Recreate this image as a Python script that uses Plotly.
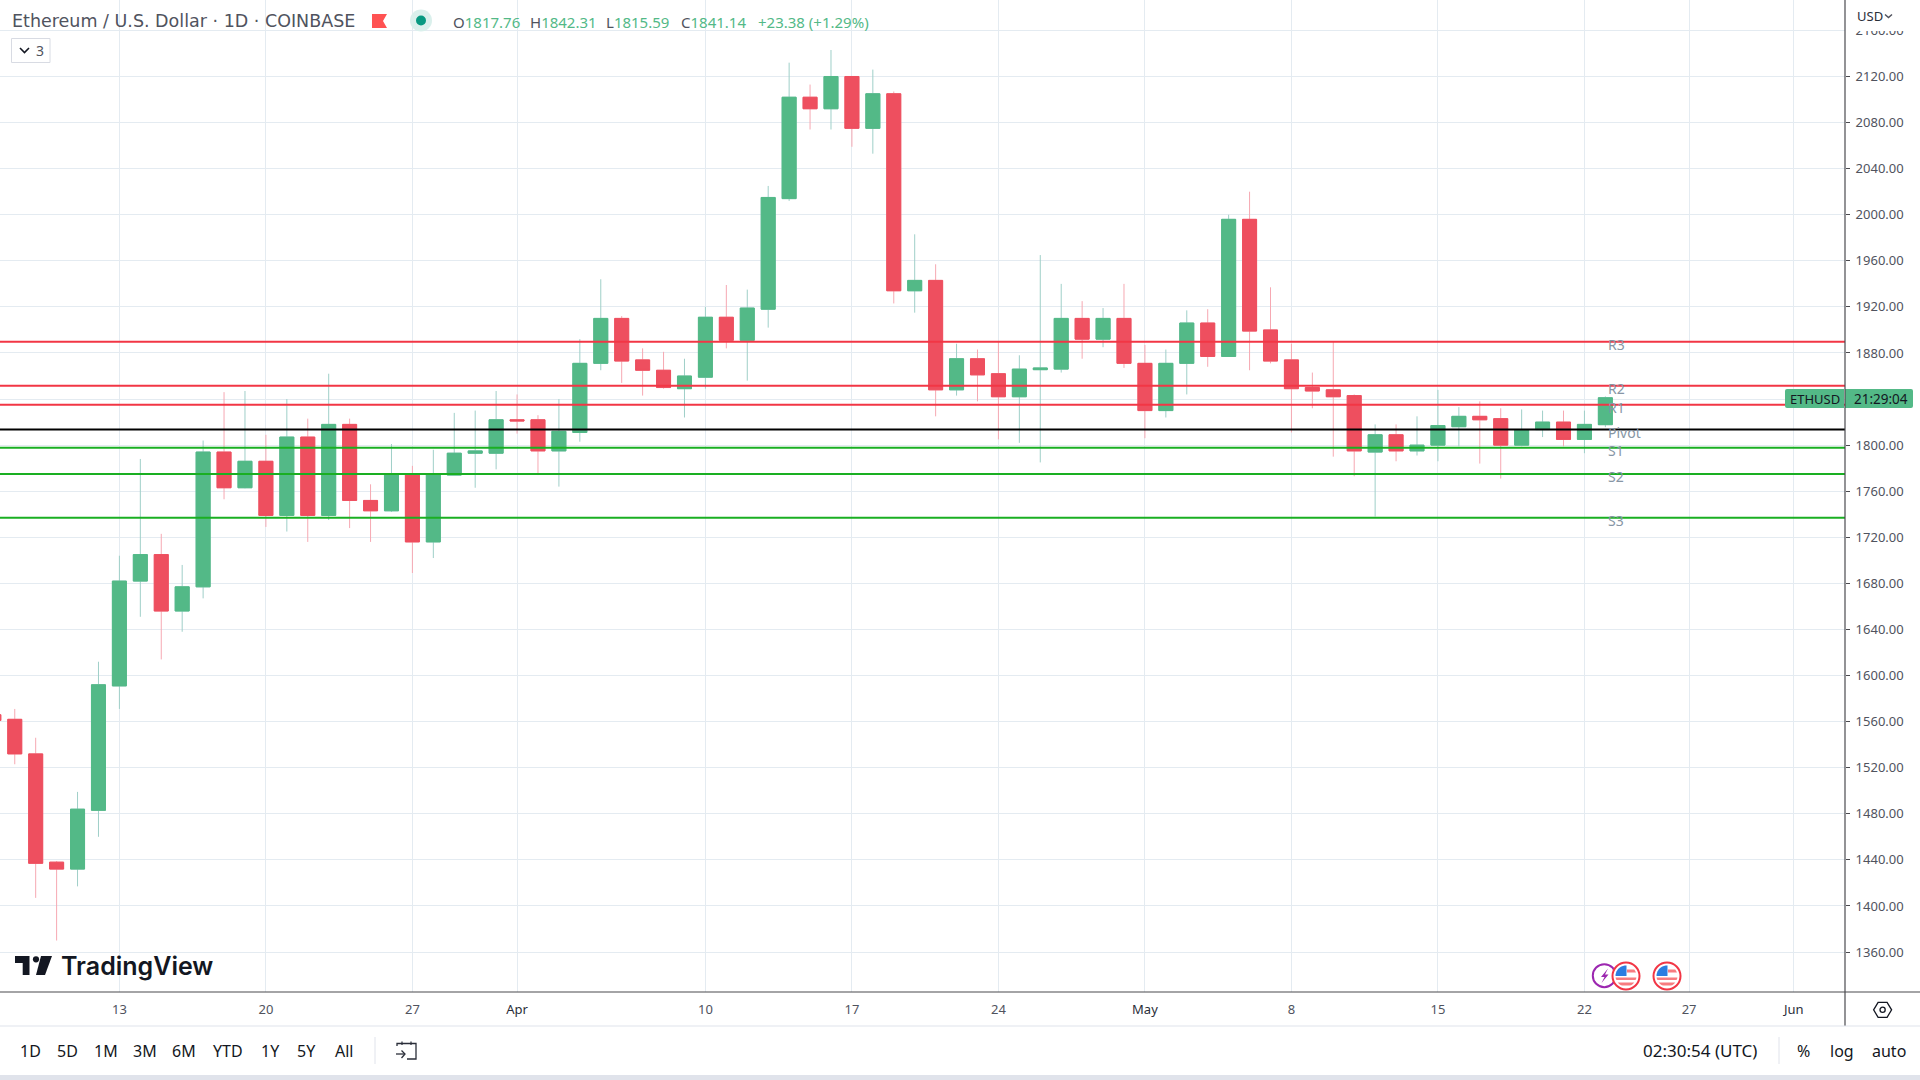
import math
import pandas as pd
import plotly.graph_objects as go

# ---------- data ----------
dates = pd.date_range("2023-03-07", "2023-05-23", freq="D")
opens = [1566,1562,1532,1438,1432,1483,1591,1682,1705,1656,1677,1794,1763,1786,1739,1807,1739,1818,1752,1743,1775,1716,1774,1793,1793,
         1822,1822,1795,1811,1871,1910,1874,1865,1849,1859,1911,1891,1918,2014,2102,2092,2120,2075,2105,1934,1943,1848,1875,1862,1842,1865.5,1866,1910,1892,1910,
         1871,1830,1871,1906,1877,1996,1900,1874,1850,1848,1843,1794,1809,1795,1800,1816,1825,1823,1800,1813.5,1820,1805,1817.76]
highs = [1568,1571,1546,1439,1499,1612,1704,1788,1723,1696,1804,1846,1847,1809,1840,1823,1862,1823,1766,1801,1782,1796,1828,1830,1847,
         1844,1826,1840,1892,1944,1912,1884,1881,1875,1920,1939,1935,2025,2132,2113,2143,2120,2126,2107,1983,1957,1888,1883,1890,1878,1965,1940,1925,1919,1940,
         1887,1883,1917,1918,2000,2020,1937,1888,1863,1890,1844,1818,1818,1825,1848,1833,1838,1832,1831,1830,1830,1830,1842.31]
lows = [1555,1523,1407,1370,1417,1460,1571,1651,1614,1638,1667,1753,1762.5,1729,1725,1716,1735,1728,1716,1742,1689,1702,1774,1763,1779,
        1810,1774,1764,1803,1865,1854,1843,1849,1824,1849,1884,1856,1902,2012,2074,2074,2059,2053,1923,1915,1825,1843,1838,1805,1802,1785,1863,1875,1885,1867,
        1806,1824,1844,1868,1877,1865,1871,1811,1832,1790,1773,1738,1786,1791,1786,1799,1784,1771,1799,1807,1799,1793,1815.59]
closes = [1561,1532,1437,1432,1484,1592,1682,1705,1656,1677,1794,1763,1786,1739,1807,1739,1818,1752,1743,1775,1716,1775,1793,1795,1822,
          1821,1795,1812,1871,1910,1873,1865,1850,1860,1911,1891,1919,2015,2102,2092,2120,2075,2105,1934,1943,1848,1875,1861,1842,1866,1867,1910,1892,1910,1871,
          1830,1871,1906,1877,1996,1899,1873,1849,1847,1842,1795,1809,1795,1800,1817,1825,1822,1800,1813.5,1820,1805,1818,1841.14]
level_names = ["R3", "R2", "R1", "Pivot", "S1", "S2", "S3"]
level_values = [1889.7, 1851.5, 1835, 1813.5, 1797.7, 1775, 1737]
level_colors = ["#f23645", "#f23645", "#f23645", "#000000", "#1aaf22", "#1aaf22", "#1aaf22"]
xtick_dates = ["2023-03-13","2023-03-20","2023-03-27","2023-04-01","2023-04-10","2023-04-17","2023-04-24",
               "2023-05-01","2023-05-08","2023-05-15","2023-05-22","2023-05-27","2023-06-01"]
xtick_text = ["13","20","27","Apr","10","17","24","May","8","15","22","27","Jun"]
ytick_vals = list(range(1360, 2200, 40))
range_buttons = ["1D","5D","1M","3M","6M","YTD","1Y","5Y","All"]

# ---------- page geometry ----------
W, H = 1920, 1080
PL_W, PL_H = 1845, 992
X = lambda p: p / PL_W
Y = lambda p: 1 - p / PL_H
TEXT = "#131722"
FONT = "Noto Sans"
GREEN, RED = "#53b987", "#ee4f5f"
GRID = "#e4ebf1"

fig = go.Figure()

# wicks (lighter) drawn with the candle, then solid bodies on top
fig.add_trace(go.Candlestick(
    x=dates, open=opens, high=highs, low=lows, close=closes, showlegend=False,
    increasing=dict(line=dict(color="#9fcfc8", width=1), fillcolor=GREEN),
    decreasing=dict(line=dict(color="#f6a8b2", width=1), fillcolor=RED)))
fig.add_trace(go.Candlestick(
    x=dates, open=opens, close=closes, showlegend=False,
    high=[max(a, b) for a, b in zip(opens, closes)],
    low=[min(a, b) for a, b in zip(opens, closes)],
    increasing=dict(line=dict(color=GREEN, width=1), fillcolor=GREEN),
    decreasing=dict(line=dict(color=RED, width=1), fillcolor=RED)))

XMIN, XMAX = "2023-03-07 07:05", "2023-06-03 10:48"
for name, val, col in zip(level_names, level_values, level_colors):
    fig.add_trace(go.Scatter(x=[XMIN, XMAX], y=[val, val], mode="lines", name=name,
                             showlegend=False, line=dict(color=col, width=2)))

shapes, notes = [], []

def note(text, px, py, size=14, color=TEXT, anchor="center", **kw):
    notes.append(dict(text=text, x=X(px), y=Y(py), xref="paper", yref="paper", showarrow=False,
                      xanchor=anchor, yanchor="middle", borderpad=0,
                      font=dict(family=kw.pop("family", FONT), size=size, color=color, **kw)))

def rect(x0, y0, x1, y1, fill, line=None, lw=1):
    shapes.append(dict(type="rect", xref="paper", yref="paper", layer="above",
                       x0=X(x0), x1=X(x1), y0=Y(y0), y1=Y(y1), fillcolor=fill,
                       line=dict(color=line or "rgba(0,0,0,0)", width=lw if line else 0)))

def seg(x0, y0, x1, y1, color, lw=1):
    shapes.append(dict(type="line", xref="paper", yref="paper", layer="above",
                       x0=X(x0), x1=X(x1), y0=Y(y0), y1=Y(y1), line=dict(color=color, width=lw)))

def poly(points, fill=None, line=None, lw=1, close=True):
    d = "M " + " L ".join(f"{X(a):.6f},{Y(b):.6f}" for a, b in points) + (" Z" if close else "")
    shapes.append(dict(type="path", xref="paper", yref="paper", layer="above", path=d,
                       fillcolor=fill or "rgba(0,0,0,0)",
                       line=dict(color=line or "rgba(0,0,0,0)", width=lw if line else 0)))

def circle(cx, cy, r, fill=None, line=None, lw=1):
    shapes.append(dict(type="circle", xref="paper", yref="paper", layer="above",
                       x0=X(cx - r), x1=X(cx + r), y0=Y(cy - r), y1=Y(cy + r),
                       fillcolor=fill or "rgba(0,0,0,0)",
                       line=dict(color=line or "rgba(0,0,0,0)", width=lw if line else 0)))

def disc_clip(cx, cy, r, x0, y0, x1, y1):
    pts = []
    edge = [(x0 + (x1 - x0) * i / 12, y0) for i in range(13)] + [(x1, y0 + (y1 - y0) * i / 6) for i in range(7)]
    edge += [(x1 - (x1 - x0) * i / 12, y1) for i in range(13)] + [(x0, y1 - (y1 - y0) * i / 6) for i in range(7)]
    for a, b in edge:
        dist = math.hypot(a, b)
        if dist > r:
            a, b = a * r / dist, b * r / dist
        pts.append((cx + a, cy + b))
    return pts

# ---------- price chrome ----------
rect(1846, 0, W, 31, "#ffffff")
note("USD", 1870, 16, 13, "#2a2e39")
poly([(1885, 14.5), (1888.5, 17.5), (1892, 14.5)], line="#50535e", lw=1.5, close=False)

# level labels sit on the level values
for name, val in zip(level_names, level_values):
    notes.append(dict(text=name, x="2023-05-23", y=val, xref="x", yref="y", showarrow=False,
                      xanchor="left", yanchor="middle", yshift=-2.5, xshift=2, borderpad=0,
                      font=dict(family=FONT, size=14, color="#8796a5")))

# last price badge
shapes.append(dict(type="path", xref="paper", yref="paper", layer="above",
                   path=f"M {X(1787)},{Y(389)} L {X(1844)},{Y(389)} L {X(1844)},{Y(408)} L {X(1787)},{Y(408)} Q {X(1785)},{Y(408)} {X(1785)},{Y(406)} L {X(1785)},{Y(391)} Q {X(1785)},{Y(389)} {X(1787)},{Y(389)} Z",
                   fillcolor=GREEN, line=dict(width=0)))
shapes.append(dict(type="path", xref="paper", yref="paper", layer="above",
                   path=f"M {X(1845)},{Y(389)} L {X(1911)},{Y(389)} Q {X(1913)},{Y(389)} {X(1913)},{Y(391)} L {X(1913)},{Y(406)} Q {X(1913)},{Y(408)} {X(1911)},{Y(408)} L {X(1845)},{Y(408)} Z",
                   fillcolor=GREEN, line=dict(width=0)))
note("ETHUSD", 1814.5, 398.5, 13, TEXT)
note("21:29:04", 1881, 398.5, 13.5, TEXT)

# ---------- header ----------
note("Ethereum / U.S. Dollar · 1D · COINBASE", 11, 21, 17.5, "#50535e", "left", family="DejaVu Sans")
poly([(372, 14), (387, 14), (383, 21), (387, 28), (372, 28)], fill="#ff5252")
circle(421, 20.5, 11, fill="#daf0ec")
circle(421, 20.5, 5, fill="#089981")
G = f"color:{GREEN}"
for lab, val, px in zip("OHLC", ["1817.76", "1842.31", "1815.59", "1841.14"], [451.5, 529, 605, 680]):
    note(f"{lab}<span style='{G}'>{val}</span>", px, 22, 15, "#50535e", "left")
note("+23.38 (+1.29%)", 757, 22, 15, GREEN, "left")
rect(11.5, 38.5, 50, 62.5, "#ffffff", "#d8dbe3", 1)
poly([(20, 48), (24.5, 52.5), (29, 48)], line=TEXT, lw=1.6, close=False)
note("3", 40, 50, 14, "#50535e")

# ---------- logo ----------
poly([(15, 956), (29.5, 956), (29.5, 975), (22.7, 975), (22.7, 963), (15, 963)], fill=TEXT)
circle(36, 959.3, 3.1, fill=TEXT)
poly([(41, 956), (52, 956), (45, 975), (36, 975)], fill=TEXT)
note("TradingView", 60, 965.5, 25, TEXT, "left", family="Inter", weight=600)

# ---------- event icons ----------
circle(1604.3, 975.7, 11.5, fill="#ffffff", line="#9c27b0", lw=2)
poly([(1608, 968.5), (1601, 977), (1604.5, 977), (1601.5, 983), (1608.5, 974.5), (1605, 974.5)], fill="#9c27b0")
for cx in (1626, 1667):
    cy = 976
    circle(cx, cy, 13.5, fill="#ffffff", line="#f23645", lw=2)
    poly(disc_clip(cx, cy, 10.5, -10.5, 1.5, 10.5, 4), fill="#f77c80")
    poly(disc_clip(cx, cy, 10.5, -10.5, 6.5, 10.5, 9.5), fill="#f77c80")
    poly(disc_clip(cx, cy, 10.5, 1, -6.5, 10.5, -3.5), fill="#f77c80")
    poly(disc_clip(cx, cy, 10.5, -10.5, -10.5, 0.5, 0), fill="#2b7de0")

# ---------- frame ----------
seg(1845, 0, 1845, 1026, "#4a4a4f", 1.2)
seg(0, 992, W, 992, "#4a4a4f", 1.2)
seg(0, 1026, W, 1026, "#e0e3eb", 1.2)
rect(0, 1075, W, H, "#e0e3eb")
seg(375, 1037, 375, 1064, "#e0e3eb", 1)
seg(1779, 1037, 1779, 1064, "#e0e3eb", 1)

# hexagon settings icon
hx, hy = 1882.6, 1009.8
poly([(hx - 9, hy), (hx - 4.5, hy - 7.5), (hx + 4.5, hy - 7.5), (hx + 9, hy), (hx + 4.5, hy + 7.5), (hx - 4.5, hy + 7.5)],
     line="#131722", lw=1.3)
circle(hx, hy, 2.6, line="#131722", lw=1.3)

# ---------- toolbar ----------
for lab, cx in zip(range_buttons, [30, 67.3, 106, 145, 183.7, 227.7, 270, 306.7, 344]):
    note(lab, cx, 1050.5, 16, TEXT)
note("02:30:54 (UTC)", 1699.5, 1050.5, 17, TEXT)
note("%", 1803.6, 1050.5, 16, TEXT)
note("log", 1842, 1050.5, 16, TEXT)
note("auto", 1888.7, 1050.5, 16, TEXT)
# calendar icon
poly([(397, 1046), (397, 1043.5), (416, 1043.5), (416, 1059), (407, 1059)], line="#2a2e39", lw=1.3, close=False)
seg(402, 1041.5, 402, 1045, "#2a2e39", 1.2)
seg(411, 1041.5, 411, 1045, "#2a2e39", 1.2)
seg(396, 1054, 405, 1054, "#2a2e39", 1.3)
poly([(401.5, 1050.5), (405, 1054), (401.5, 1058)], line="#2a2e39", lw=1.3, close=False)

xtick_shown = [f"<span style='color:#2a2e39'>{t}</span>" if t.isalpha() else t for t in xtick_text]

fig.update_layout(
    width=W, height=H, autosize=False,
    margin=dict(l=0, r=W - PL_W, t=0, b=H - PL_H, pad=0),
    paper_bgcolor="#ffffff", plot_bgcolor="#ffffff",
    showlegend=False, boxgap=0.33, boxgroupgap=0, hovermode=False,
    font=dict(family=FONT, size=13, color="#50535e"),
    shapes=shapes, annotations=notes,
    xaxis=dict(type="date", range=[XMIN, XMAX], rangeslider=dict(visible=False),
               tickmode="array", tickvals=xtick_dates, ticktext=xtick_shown, ticks="",
               showgrid=True, gridcolor=GRID, gridwidth=1, zeroline=False, showline=False,
               tickfont=dict(family=FONT, size=13, color="#50535e"), ticklabelstandoff=8),
    yaxis=dict(side="right", range=[1325.3, 2186.4], tickmode="array", tickvals=ytick_vals,
               ticktext=[f"{v}.00" for v in ytick_vals], ticks="outside", ticklen=4, tickcolor="#4a4a4f",
               showgrid=True, gridcolor=GRID, gridwidth=1, zeroline=False, showline=False,
               tickfont=dict(family=FONT, size=13, color="#50535e"), ticklabelstandoff=3),
)

fig.write_html("out.html", config=dict(displayModeBar=False),
               post_script="document.body.style.margin='0';document.documentElement.style.overflow='hidden';")
